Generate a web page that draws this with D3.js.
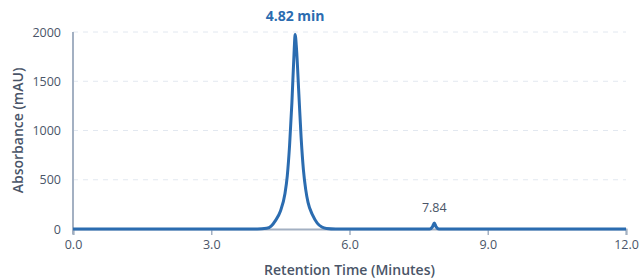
<!DOCTYPE html>
<html>
<head>
<meta charset="utf-8">
<script src="https://cdn.jsdelivr.net/npm/d3@7"></script>
<style>
  body { margin: 0; background: #fff; }
  text { font-family: "Open Sans", "Noto Sans", sans-serif; }
</style>
</head>
<body>
<svg id="chart" width="640" height="280"></svg>
<script>
// retention time (min) and absorbance (mAU)
const times = [0, 2, 4, 4.2, 4.3, 4.4, 4.5, 4.6, 4.65, 4.7, 4.75, 4.8, 4.82, 4.85, 4.9, 4.95, 5.0, 5.05, 5.1, 5.2, 5.3, 5.4, 5.5, 5.7, 7, 7.74, 7.8, 7.84, 7.88, 7.94, 9, 12]
const absorbance = [0, 0, 0, 8, 30, 90, 180, 360, 540, 850, 1280, 1820, 1975, 1830, 1380, 930, 600, 400, 270, 140, 60, 20, 5, 0, 0, 0, 22, 60, 22, 0, 0, 0]
const xTicks = [0, 3, 6, 9, 12]
const yTicks = [0, 500, 1000, 1500, 2000]
const peakLabels = [
  { t: 4.82, v: 1975, text: '4.82 min', main: true },
  { t: 7.84, v: 60, text: '7.84', main: false }
]

const width = 640
const height = 280
const margin = { top: 32, right: 14, bottom: 51, left: 73 }

const svg = d3.select('#chart')
const x = d3.scaleLinear().domain([0, 12]).range([margin.left, width - margin.right])
const y = d3.scaleLinear().domain([0, 2000]).range([height - margin.bottom, margin.top])

const axisColor = '#a3b0c2'
const textColor = '#4a5568'

// grid
svg.append('g')
  .selectAll('line')
  .data(yTicks.filter(d => d > 0))
  .join('line')
  .attr('x1', x(0))
  .attr('x2', x(12))
  .attr('y1', d => y(d))
  .attr('y2', d => y(d))
  .attr('stroke', '#e2e8f0')
  .attr('stroke-width', 1)
  .attr('stroke-dasharray', '5,5')

// x axis
const xAxis = svg.append('g')
  .attr('transform', `translate(0,${y(0)})`)
  .call(d3.axisBottom(x).tickValues(xTicks).tickFormat(d3.format('.1f')).tickSize(6).tickPadding(5))
xAxis.select('.domain').attr('stroke', axisColor).attr('stroke-width', 2)
xAxis.selectAll('.tick line').attr('stroke', axisColor).attr('stroke-width', 1.5)
xAxis.selectAll('.tick text').attr('fill', textColor).attr('font-size', 12.5)
  .attr('font-family', '"Open Sans", sans-serif')

// y axis
const yAxis = svg.append('g')
  .attr('transform', `translate(${x(0)},0)`)
  .call(d3.axisLeft(y).tickValues(yTicks).tickFormat(d3.format('d')).tickSize(0).tickPadding(12))
yAxis.select('.domain').attr('stroke', axisColor).attr('stroke-width', 2)
  .attr('d', `M0,${y(2000)}V${y(0) + 5}`)
yAxis.selectAll('.tick text').attr('fill', textColor).attr('font-size', 12.5)
  .attr('font-family', '"Open Sans", sans-serif')

// axis titles
svg.append('text')
  .attr('x', (x(0) + x(12)) / 2)
  .attr('y', 275)
  .attr('text-anchor', 'middle')
  .attr('fill', textColor)
  .attr('font-size', 14)
  .attr('font-weight', 600)
  .text('Retention Time (Minutes)')

svg.append('text')
  .attr('transform', `translate(23,${(y(0) + y(2000)) / 2}) rotate(-90)`)
  .attr('text-anchor', 'middle')
  .attr('fill', textColor)
  .attr('font-size', 14)
  .attr('font-weight', 600)
  .text('Absorbance (mAU)')

// trace
const points = times.map((t, i) => [t, absorbance[i]])
const line = d3.line()
  .x(d => x(d[0]))
  .y(d => y(d[1]))
  .curve(d3.curveMonotoneX)
svg.append('path')
  .datum(points)
  .attr('d', line)
  .attr('fill', 'none')
  .attr('stroke', '#2b6cb0')
  .attr('stroke-width', 3)
  .attr('stroke-linejoin', 'round')

// peak labels
svg.append('g')
  .selectAll('text')
  .data(peakLabels)
  .join('text')
  .attr('x', d => x(d.t))
  .attr('y', d => y(d.v) - (d.main ? 13 : 11))
  .attr('text-anchor', 'middle')
  .attr('fill', d => d.main ? '#2b6cb0' : textColor)
  .attr('font-size', d => d.main ? 14 : 12.5)
  .attr('font-weight', d => d.main ? 700 : 400)
  .text(d => d.text)
</script>
</body>
</html>
